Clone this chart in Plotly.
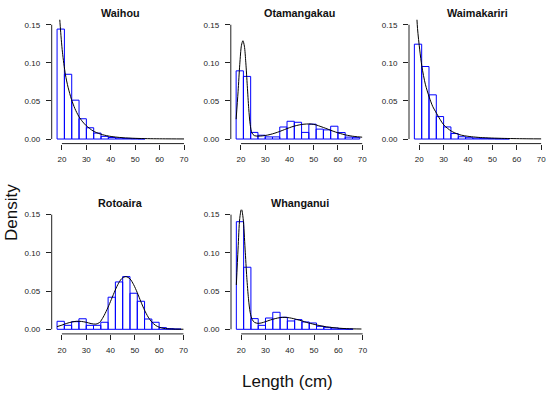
import plotly.graph_objects as go

W, H = 547, 397

# ---------------- data ----------------
panel_names = ["Waihou", "Otamangakau", "Waimakariri", "Rotoaira", "Whanganui"]

bin_width = 3
bin_left = [18, 21, 24, 27, 30, 33, 36, 39, 42, 45, 48, 51, 54, 57, 60, 63, 66, 69]

waihou_density = [0.1443, 0.0850, 0.0510, 0.0266, 0.0148, 0.0078, 0.0035, 0.0020,
                  0.0012, 0.0008, 0.0005, 0.0003]
otamangakau_density = [0.0895, 0.0822, 0.0087, 0.0050, 0.0028, 0.0028, 0.0158, 0.0233,
                       0.0220, 0.0087, 0.0195, 0.0130, 0.0120, 0.0168, 0.0085, 0.0025,
                       0.0018]
waimakariri_density = [0.1245, 0.0952, 0.0580, 0.0295, 0.0159, 0.0072, 0.0030, 0.0017,
                       0.0012, 0.0009, 0.0006, 0.0004, 0.0003]
rotoaira_density = [0.0105, 0.0052, 0.0100, 0.0138, 0.0052, 0.0052, 0.0092, 0.0420,
                    0.0620, 0.0690, 0.0472, 0.0367, 0.0135, 0.0092, 0.0022, 0.0009,
                    0.0004]
whanganui_density = [0.1408, 0.0812, 0.0140, 0.0052, 0.0148, 0.0223, 0.0157, 0.0109,
                     0.0127, 0.0096, 0.0083, 0.0039, 0.0026, 0.0017, 0.0009, 0.0004]

waihou_curve_x = [18.7, 19.3, 20.2, 21.4, 22.5, 23.9, 25.3, 26.9, 28.5, 30.0, 32.8,
                  35.8, 38.9, 42, 45, 50, 55, 60, 65, 70]
waihou_curve_y = [0.178, 0.148, 0.114, 0.085, 0.068, 0.052, 0.040, 0.0297, 0.0225,
                  0.0174, 0.0105, 0.0065, 0.0040, 0.0026, 0.0017, 0.0009, 0.0005,
                  0.0003, 0.0002, 0.0001]

otamangakau_curve_x = [18, 18.8, 19.5, 20.2, 20.8, 21.4, 22.0, 22.6, 23.2, 23.8, 24.5,
                       25.5, 27, 29, 31, 33, 35, 37, 39, 41, 43, 45, 47, 49, 51, 53,
                       55, 57, 59, 61, 63, 65, 67, 70]
otamangakau_curve_y = [0.026, 0.062, 0.098, 0.123, 0.129, 0.122, 0.100, 0.070, 0.040,
                       0.019, 0.008, 0.0045, 0.0038, 0.0042, 0.0052, 0.0068, 0.0088,
                       0.0112, 0.0137, 0.0160, 0.0178, 0.0191, 0.0197, 0.0197, 0.0185,
                       0.0163, 0.0140, 0.0115, 0.0092, 0.0072, 0.0055, 0.0042, 0.0033,
                       0.0024]

waimakariri_curve_x = [18.7, 19.3, 20.2, 21.1, 22.5, 24.1, 25.5, 27.1, 28.5, 30.1, 33.1,
                       36.1, 38.5, 41.5, 45, 49.7, 55, 60, 65, 70]
waimakariri_curve_y = [0.180, 0.145, 0.117, 0.095, 0.072, 0.055, 0.043, 0.0337, 0.026,
                       0.0184, 0.0105, 0.0061, 0.0043, 0.0030, 0.0020, 0.0013, 0.0008,
                       0.0005, 0.0003, 0.0002]

rotoaira_curve_x = [18, 20, 22, 24, 26, 28, 30, 32, 34, 35.5, 37, 38.5, 40, 41.5, 43,
                    44.5, 46.3, 48, 49.5, 51, 52.5, 54, 55.5, 57, 58.5, 60, 62, 65, 70]
rotoaira_curve_y = [0.0035, 0.0055, 0.0078, 0.0095, 0.0105, 0.0103, 0.0092, 0.0075,
                    0.0068, 0.0090, 0.0160, 0.0255, 0.0365, 0.0480, 0.0585, 0.0660,
                    0.0690, 0.0660, 0.0585, 0.0480, 0.0360, 0.0250, 0.0160, 0.0095,
                    0.0052, 0.0028, 0.0012, 0.0004, 0.0001]

whanganui_curve_x = [18, 18.7, 19.4, 20.1, 20.8, 21.6, 22.3, 23.0, 23.7, 24.5, 25.5,
                     27, 28.5, 30, 32, 34, 36, 38, 40, 42.8, 45, 47, 50, 52.4, 55, 57.8,
                     60.5, 63.3, 66, 69.5]
whanganui_curve_y = [0.058, 0.105, 0.145, 0.158, 0.145, 0.105, 0.068, 0.040, 0.022,
                     0.013, 0.009, 0.0078, 0.0085, 0.0100, 0.0122, 0.0140, 0.0153,
                     0.0157, 0.0150, 0.0130, 0.0110, 0.0090, 0.0065, 0.0048, 0.0033,
                     0.0022, 0.0014, 0.0009, 0.0006, 0.0004]

x_ticks = [20, 30, 40, 50, 60, 70]
y_ticks = [0, 0.05, 0.10, 0.15]
y_tick_labels = ["0.00", "0.05", "0.10", "0.15"]

densities = [waihou_density, otamangakau_density, waimakariri_density,
             rotoaira_density, whanganui_density]
curves = [(waihou_curve_x, waihou_curve_y), (otamangakau_curve_x, otamangakau_curve_y),
          (waimakariri_curve_x, waimakariri_curve_y), (rotoaira_curve_x, rotoaira_curve_y),
          (whanganui_curve_x, whanganui_curve_y)]

# ---------------- layout geometry (pixels) ----------------
# plot regions: (left, right, top, bottom)
regions = [
    (51.7, 189.4, 19.8, 143.6),
    (230.8, 367.5, 19.8, 143.6),
    (409.0, 546.5, 19.8, 143.6),
    (51.7, 188.8, 209.7, 333.9),
    (231.0, 368.0, 209.7, 333.9),
]
title_y = [13, 13, 13, 203, 203]

FONT = "Liberation Sans, Arial, sans-serif"
TXT = "#222222"

fig = go.Figure()
shapes = []
annotations = []
layout = {}

for i, (name, dens, (cx, cy), reg) in enumerate(zip(panel_names, densities, curves, regions)):
    n = i + 1
    xa = "x" if n == 1 else f"x{n}"
    ya = "y" if n == 1 else f"y{n}"
    fig.add_trace(go.Bar(
        x=bin_left[:len(dens)], y=dens, width=bin_width, offset=0,
        marker=dict(color="rgba(255,255,255,0)", line=dict(color="#0000FF", width=1)),
        xaxis=xa, yaxis=ya, showlegend=False, hoverinfo="skip"))
    fig.add_trace(go.Scatter(
        x=cx, y=cy, mode="lines", line=dict(color="black", width=1, shape="spline", smoothing=0.8),
        xaxis=xa, yaxis=ya, showlegend=False, hoverinfo="skip"))

    l, r, t, b = reg
    xd = [l / W, r / W]
    yd = [(H - b) / H, (H - t) / H]
    layout[f"xaxis{'' if n == 1 else n}"] = dict(
        domain=xd, range=[15.8, 72.2], anchor=ya, tickvals=x_ticks,
        ticks="outside", ticklen=5, tickwidth=1, tickcolor="#222",
        showline=False, showgrid=False, zeroline=False, fixedrange=True,
        tickfont=dict(family=FONT, size=8, color=TXT), ticklabelstandoff=3)
    layout[f"yaxis{'' if n == 1 else n}"] = dict(
        domain=yd, range=[-0.006, 0.1565], anchor=xa, tickvals=y_ticks,
        ticktext=y_tick_labels, ticks="outside", ticklen=5, tickwidth=1, tickcolor="#222",
        showline=False, showgrid=False, zeroline=False, fixedrange=True,
        tickfont=dict(family=FONT, size=8, color=TXT), ticklabelstandoff=4)
    # R-style axis lines spanning only the tick range
    shapes.append(dict(type="line", xref=xa, yref=f"{ya} domain",
                       x0=x_ticks[0], x1=x_ticks[-1], y0=0, y1=0,
                       line=dict(color="#222", width=1)))
    shapes.append(dict(type="line", xref=f"{xa} domain", yref=ya,
                       x0=0, x1=0, y0=y_ticks[0], y1=y_ticks[-1],
                       line=dict(color="#222", width=1)))
    annotations.append(dict(text=f"<b>{name}</b>", x=(l + r) / 2 / W, y=(H - title_y[i]) / H,
                            xref="paper", yref="paper", showarrow=False,
                            xanchor="center", yanchor="middle",
                            font=dict(family=FONT, size=10.8, color="#111")))

annotations.append(dict(text="Density", x=12 / W, y=(H - 213) / H, xref="paper", yref="paper",
                        showarrow=False, textangle=-90, xanchor="center", yanchor="middle",
                        font=dict(family=FONT, size=17, color="#111")))
annotations.append(dict(text="Length (cm)", x=287.5 / W, y=(H - 381) / H, xref="paper",
                        yref="paper", showarrow=False, xanchor="center", yanchor="middle",
                        font=dict(family=FONT, size=17, color="#111")))

fig.update_layout(
    width=W, height=H, autosize=False,
    margin=dict(l=0, r=0, t=0, b=0),
    paper_bgcolor="white", plot_bgcolor="white",
    barmode="overlay", bargap=0,
    shapes=shapes, annotations=annotations,
    **layout)

fig.write_html("out.html",
               config={"displayModeBar": False, "staticPlot": True},
               post_script="document.body.style.margin='0';document.body.style.padding='0';"
                           "document.body.style.overflow='hidden';")
